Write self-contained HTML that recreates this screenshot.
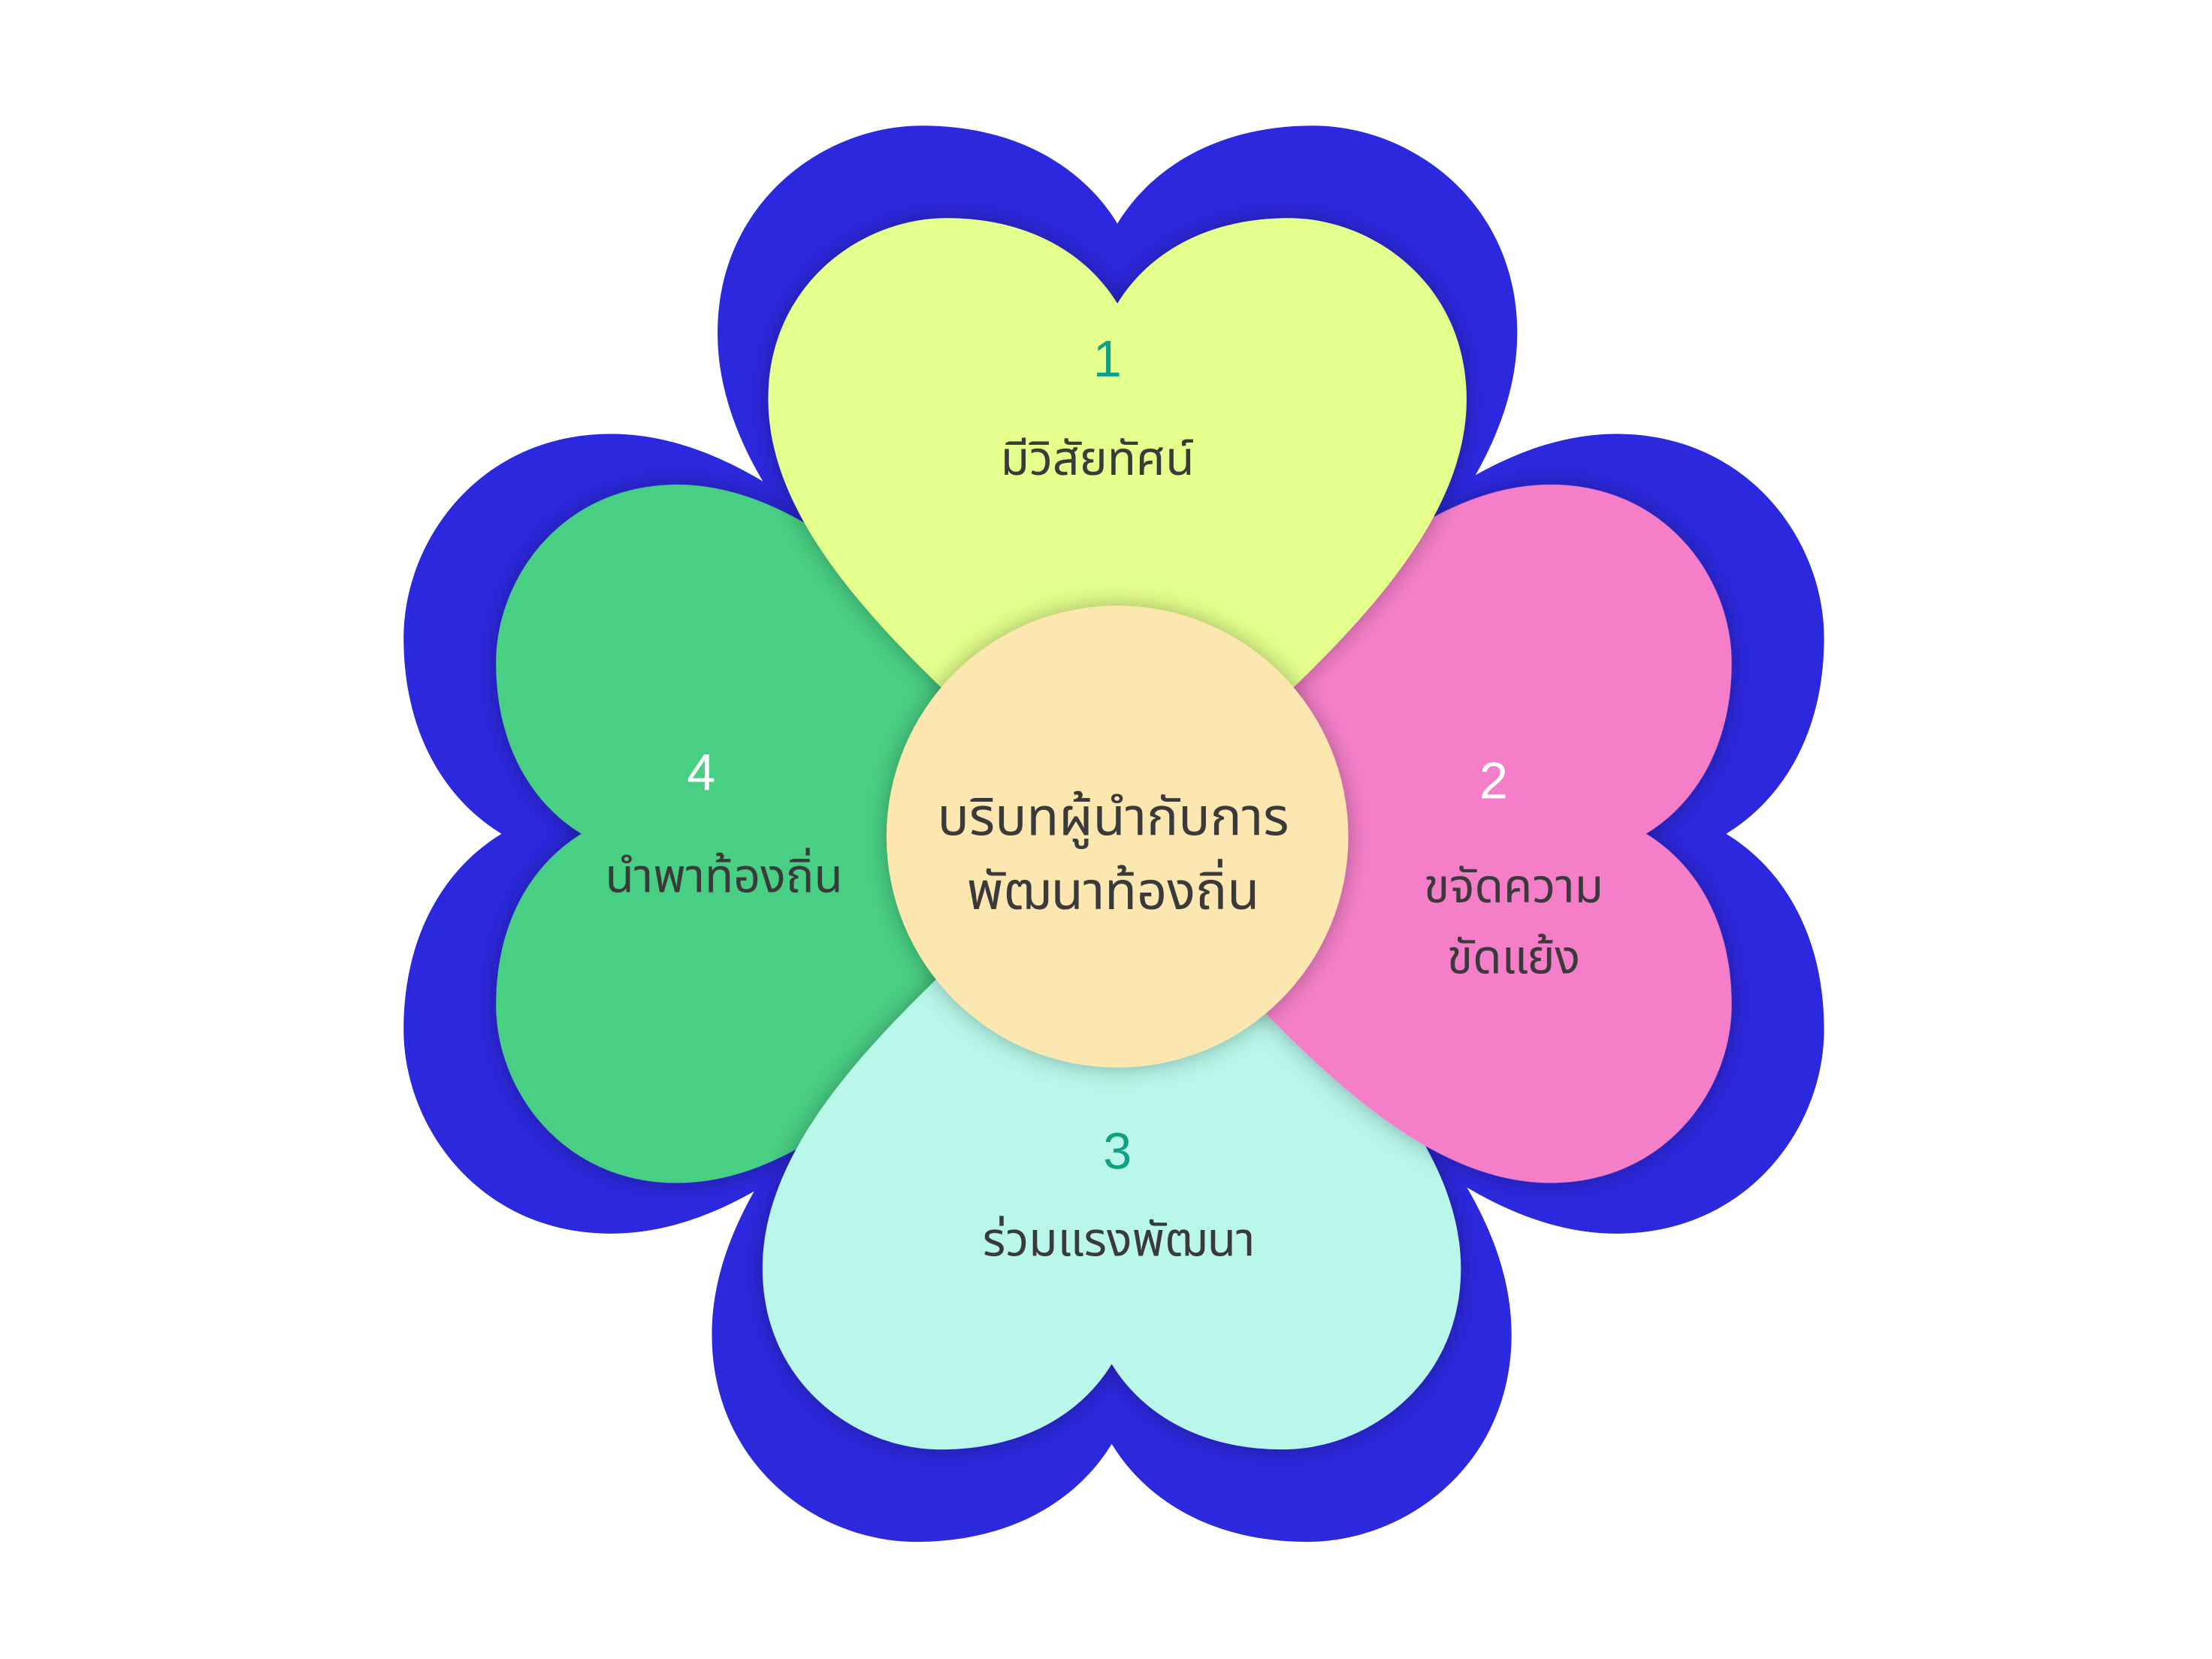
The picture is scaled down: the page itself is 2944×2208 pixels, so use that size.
<!DOCTYPE html>
<html><head><meta charset="utf-8"><style>
html,body{margin:0;padding:0;background:#fff;}
svg{display:block;}
text{font-family:"Liberation Sans","Noto Sans Thai","Tlwg Typist","Garuda","Loma",sans-serif;}
</style></head><body>
<svg width="2944" height="2208" viewBox="0 0 1552 1164" xmlns="http://www.w3.org/2000/svg">
<defs>
<path id="h" d="M0 0 C-90 -95 -245 -200 -245 -320 C-245 -400 -180 -447 -120 -447 C-60 -447 -20 -420 0 -387 C20 -420 60 -447 120 -447 C180 -447 245 -400 245 -320 C245 -200 90 -95 0 0 Z"/>
<filter id="sh" x="-20%" y="-20%" width="140%" height="140%"><feDropShadow dx="0" dy="0" stdDeviation="8" flood-color="#000" flood-opacity="0.3"/></filter>
</defs>
<rect width="1552" height="1164" fill="#fff"/>
<g fill="#2c28de">
<use href="#h" transform="translate(784,600) scale(1.145)"/>
<use href="#h" transform="translate(768,585) rotate(90) scale(1.145)"/>
<use href="#h" transform="translate(780,570) rotate(180) scale(1.145)"/>
<use href="#h" transform="translate(795,585) rotate(-90) scale(1.145)"/>
</g>
<use href="#h" fill="#48cf84" filter="url(#sh)" transform="translate(795,585) rotate(-90)"/>
<use href="#h" fill="#b8f7ea" filter="url(#sh)" transform="translate(780,570) rotate(180)"/>
<use href="#h" fill="#f47fc8" filter="url(#sh)" transform="translate(768,585) rotate(90)"/>
<use href="#h" fill="#e4ff8c" filter="url(#sh)" transform="translate(784,600)"/>
<circle cx="784" cy="587" r="162" fill="#fce7b0" filter="url(#sh)"/>
<g text-anchor="middle" dominant-baseline="central">
<text x="777" y="252" font-size="36" fill="#12a085">1</text>
<text x="770" y="322" font-size="33" fill="#3a3a3a">มีวิสัยทัศน์</text>
<text x="1048" y="548" font-size="36" fill="#ffffff">2</text>
<text x="1062" y="622" font-size="33" fill="#3a3a3a">ขจัดความ</text>
<text x="1062" y="672" font-size="33" fill="#3a3a3a">ขัดแย้ง</text>
<text x="784" y="808" font-size="36" fill="#12a085">3</text>
<text x="785" y="870" font-size="33" fill="#3a3a3a">ร่วมแรงพัฒนา</text>
<text x="492" y="542" font-size="36" fill="#ffffff">4</text>
<text x="508" y="615" font-size="33" fill="#3a3a3a">นำพาท้องถิ่น</text>
<text x="781" y="573" font-size="37" fill="#3a3a3a">บริบทผู้นำกับการ</text>
<text x="781" y="625" font-size="37" fill="#3a3a3a">พัฒนาท้องถิ่น</text>
</g>
</svg>
</body></html>
